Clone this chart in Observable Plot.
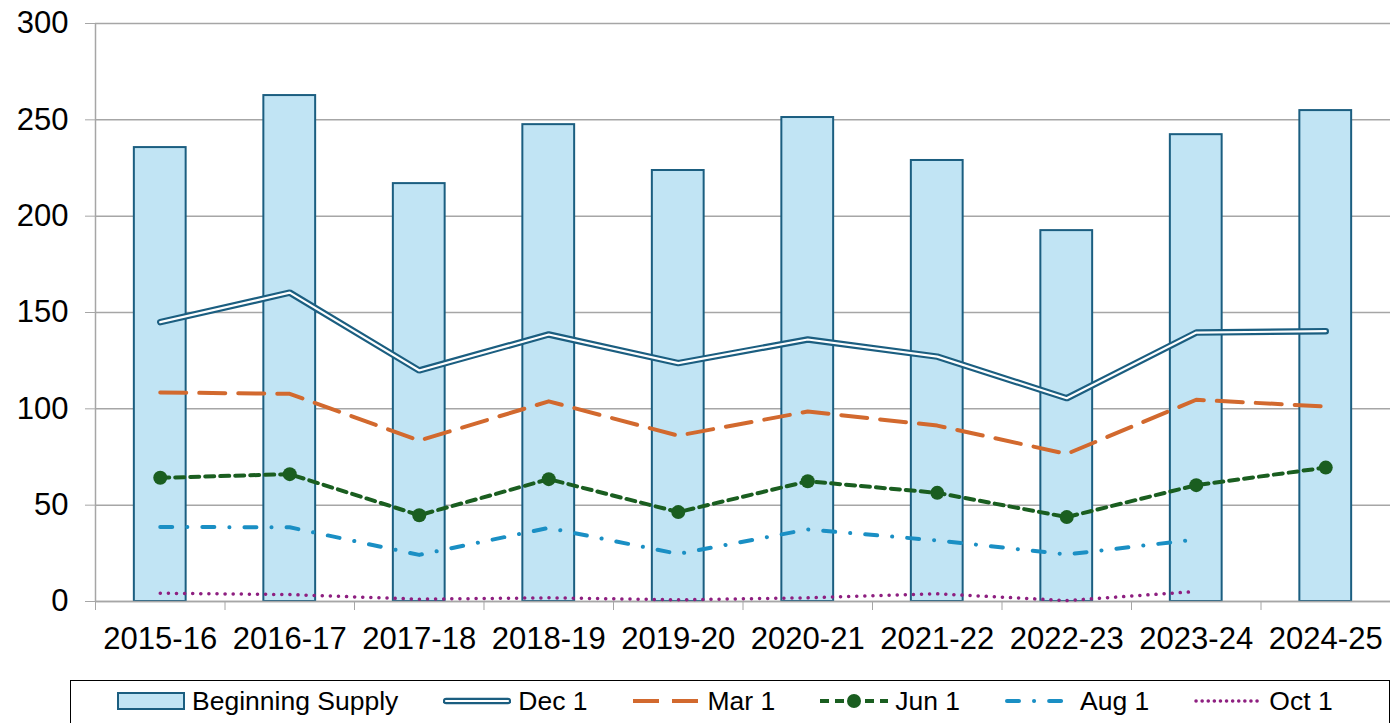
<!DOCTYPE html>
<html>
<head>
<meta charset="utf-8">
<script src="https://cdn.jsdelivr.net/npm/d3@7"></script>
<script src="https://cdn.jsdelivr.net/npm/@observablehq/plot@0.6"></script>
<style>
  body { margin: 0; background: #fff; font-family: "Liberation Sans", Arial, sans-serif; }
  #chart { position: absolute; left: 0; top: 0; }
  #legend {
    position: absolute; left: 70px; top: 680px; width: 1320px; height: 44px;
    border: 1.5px solid #000; box-sizing: border-box;
    display: flex; align-items: center; padding-left: 46px; padding-bottom: 2px;
    font-size: 26.5px; color: #000; white-space: nowrap;
  }
  .item { display: flex; align-items: center; margin-right: 45px; }
  .item svg { margin-right: 7px; }
</style>
</head>
<body>
<div id="chart"></div>
<div id="legend"></div>
<script>
const seasons = ["2015-16","2016-17","2017-18","2018-19","2019-20","2020-21","2021-22","2022-23","2023-24","2024-25"];
const beginningSupply = [235.6, 262.6, 216.9, 247.5, 223.7, 251.2, 228.9, 192.5, 242.3, 254.8];
const dec1 = [145.0, 160.3, 119.9, 138.6, 123.7, 136.0, 127.1, 105.5, 139.6, 140.3];
const mar1 = [108.5, 107.8, 83.5, 103.9, 86.1, 98.6, 91.3, 76.6, 104.7, 101.2];
const jun1 = [64.2, 66.1, 44.8, 63.5, 46.4, 62.4, 56.4, 43.8, 60.4, 69.5];
const aug1 = [38.7, 38.5, 24.2, 38.2, 24.7, 37.4, 31.7, 24.4, 32.2, null];
const oct1 = [4.3, 3.6, 1.2, 1.9, 0.9, 1.9, 4.0, 0.5, 5.2, null];
const yTicks = [0, 50, 100, 150, 200, 250, 300];

const colors = {
  bar: "#c1e4f4", barStroke: "#1b5e80",
  dec: "#1b5e80", mar: "#d2692e", jun: "#1a5e20", aug: "#1a8fc4", oct: "#8e1f80"
};

const width = 1398, height = 672;
const mL = 95, mR = 8, mT = 23, mB = height - 601;
const step = (width - mL - mR) / seasons.length;

const toRows = arr => seasons.map((s, i) => ({season: s, value: arr[i]}));
const barRows = toRows(beginningSupply);
const decRows = toRows(dec1), marRows = toRows(mar1), junRows = toRows(jun1);
const augRows = toRows(aug1).filter(d => d.value != null);
const octRows = toRows(oct1).filter(d => d.value != null);

const gray = "#a6a6a6";

const chart = Plot.plot({
  width, height,
  marginLeft: mL, marginRight: mR, marginTop: mT, marginBottom: mB,
  style: {fontFamily: "'Liberation Sans', Arial, sans-serif", color: "#000", background: "#fff"},
  x: {type: "band", domain: seasons, paddingInner: 0.6, paddingOuter: 0.3, round: false, label: null},
  y: {domain: [0, 300], label: null},
  marks: [
    Plot.gridY(yTicks, {stroke: gray, strokeOpacity: 1, strokeWidth: 1.5}),
    Plot.barY(barRows, {x: "season", y: "value", fill: colors.bar, stroke: colors.barStroke, strokeWidth: 2}),
    // axis lines
    Plot.ruleY([0], {stroke: gray, strokeWidth: 1.5}),
    Plot.ruleX([seasons[0]], {dx: -step / 2, stroke: gray, strokeWidth: 1.5}),
    // y axis
    Plot.axisY(yTicks, {tickSize: 10, tickPadding: 17, fontSize: 31, stroke: gray, fill: "#000", label: null}),
    // x boundary ticks
    Plot.axisX(seasons, {tickSize: 9, dx: -step / 2, tickFormat: () => "", stroke: gray, label: null}),
    Plot.axisX(seasons, {tickSize: 0, tickPadding: 25, fontSize: 31, fill: "#000", label: null}),
    // Dec 1 double line
    Plot.lineY(decRows, {x: "season", y: "value", stroke: colors.dec, strokeWidth: 6.5, strokeLinejoin: "miter", strokeLinecap: "round"}),
    Plot.lineY(decRows, {x: "season", y: "value", stroke: "#fff", strokeWidth: 2.2, strokeLinejoin: "miter", strokeLinecap: "round"}),
    // Mar 1
    Plot.lineY(marRows, {x: "season", y: "value", stroke: colors.mar, strokeWidth: 4, strokeDasharray: "26 13"}),
    // Jun 1
    Plot.lineY(junRows, {x: "season", y: "value", stroke: colors.jun, strokeWidth: 4, strokeDasharray: "9 6"}),
    Plot.dot(junRows, {x: "season", y: "value", r: 7, fill: colors.jun, stroke: "none"}),
    // Aug 1
    Plot.lineY(augRows, {x: "season", y: "value", stroke: colors.aug, strokeWidth: 4, strokeLinecap: "round", strokeDasharray: "12 15 0.1 15"}),
    // Oct 1
    Plot.lineY(octRows, {x: "season", y: "value", stroke: colors.oct, strokeWidth: 3.5, strokeLinecap: "round", strokeDasharray: "0.1 8"})
  ]
});
document.getElementById("chart").appendChild(chart);

// Legend
const legendItems = [
  {label: "Beginning Supply", kind: "bar"},
  {label: "Dec 1", kind: "dec"},
  {label: "Mar 1", kind: "mar"},
  {label: "Jun 1", kind: "jun"},
  {label: "Aug 1", kind: "aug"},
  {label: "Oct 1", kind: "oct"}
];
const legend = d3.select("#legend");
for (const it of legendItems) {
  const div = legend.append("div").attr("class", "item");
  const svg = div.append("svg").attr("width", 68).attr("height", 22);
  if (it.kind === "bar") {
    svg.append("rect").attr("x", 1).attr("y", 3).attr("width", 66).attr("height", 16)
      .attr("fill", colors.bar).attr("stroke", colors.barStroke).attr("stroke-width", 2);
  } else if (it.kind === "dec") {
    svg.append("line").attr("x1", 3).attr("x2", 65).attr("y1", 11).attr("y2", 11)
      .attr("stroke", colors.dec).attr("stroke-width", 6.5).attr("stroke-linecap", "round");
    svg.append("line").attr("x1", 3).attr("x2", 65).attr("y1", 11).attr("y2", 11)
      .attr("stroke", "#fff").attr("stroke-width", 2.2).attr("stroke-linecap", "round");
  } else if (it.kind === "mar") {
    svg.append("line").attr("x1", 0).attr("x2", 68).attr("y1", 11).attr("y2", 11)
      .attr("stroke", colors.mar).attr("stroke-width", 4).attr("stroke-dasharray", "26 13");
  } else if (it.kind === "jun") {
    svg.append("line").attr("x1", 0).attr("x2", 68).attr("y1", 11).attr("y2", 11)
      .attr("stroke", colors.jun).attr("stroke-width", 4).attr("stroke-dasharray", "9 6");
    svg.append("circle").attr("cx", 34).attr("cy", 11).attr("r", 7).attr("fill", colors.jun);
  } else if (it.kind === "aug") {
    svg.append("line").attr("x1", 2).attr("x2", 66).attr("y1", 11).attr("y2", 11)
      .attr("stroke", colors.aug).attr("stroke-width", 4).attr("stroke-linecap", "round")
      .attr("stroke-dasharray", "12 15 0.1 15");
  } else {
    svg.append("line").attr("x1", 2).attr("x2", 66).attr("y1", 11).attr("y2", 11)
      .attr("stroke", colors.oct).attr("stroke-width", 3.5).attr("stroke-linecap", "round")
      .attr("stroke-dasharray", "0.1 6");
  }
  div.append("span").text(it.label);
}
</script>
</body>
</html>
